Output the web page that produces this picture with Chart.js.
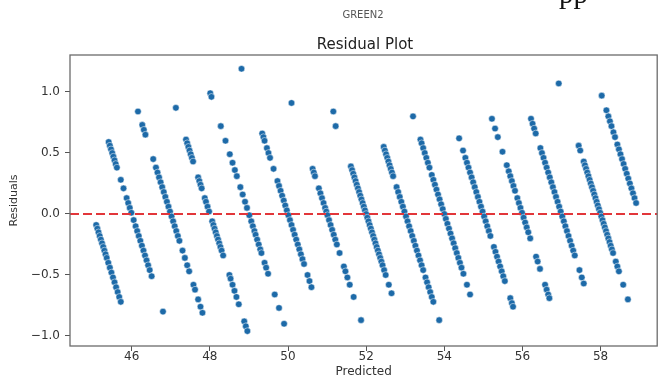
<!DOCTYPE html>
<html>
<head>
<meta charset="utf-8">
<script src="https://cdn.jsdelivr.net/npm/chart.js@4.4.0/dist/chart.umd.min.js"></script>
<style>
html,body{margin:0;padding:0;background:#ffffff;}
#wrap{position:relative;width:661px;height:378px;overflow:hidden;background:#ffffff;}
#c{position:absolute;left:0;top:0;}
.t{position:absolute;white-space:nowrap;font-family:'DejaVu Sans',sans-serif;}
#suptitle{left:363px;top:10px;font-size:10px;line-height:10px;color:#555;transform:translateX(-50%);}
#title{left:365px;top:37px;font-size:15px;line-height:15px;color:#222;transform:translateX(-50%);}
#pp{left:559px;top:-21px;font-family:'Liberation Serif',serif;font-size:29px;line-height:29px;color:#111;}
</style>
</head>
<body>
<div id="wrap">
<canvas id="c" width="661" height="378"></canvas>
<div class="t" id="suptitle">GREEN2</div>
<div class="t" id="title">Residual Plot</div>
<div class="t" id="pp">pp</div>
</div>
<script>
// Axis ticks
const xTicks = [46, 48, 50, 52, 54, 56, 58];
const yTicks = [-1.0, -0.5, 0.0, 0.5, 1.0];
const yTickLabels = ['\u22121.0', '\u22120.5', '0.0', '0.5', '1.0'];
const zeroLevel = 0;

// Predicted values and residuals, one stripe per observed integer value
const predicted45 = [45.09,45.12,45.15,45.18,45.21,45.24,45.27,45.30,45.33,45.36,45.40,45.44,45.48,45.52,45.56,45.60,45.64,45.68,45.72];
const residual45  = [-0.09,-0.12,-0.15,-0.18,-0.21,-0.24,-0.27,-0.30,-0.33,-0.36,-0.40,-0.44,-0.48,-0.52,-0.56,-0.60,-0.64,-0.68,-0.72];

const predicted46 = [45.41,45.44,45.47,45.50,45.53,45.56,45.59,45.62,45.72,45.79,45.87,45.91,45.95,45.99,46.05,46.10,46.14,46.18,46.22,46.26,46.30,46.34,46.38,46.42,46.46,46.51,46.80];
const residual46  = [0.59,0.56,0.53,0.50,0.47,0.44,0.41,0.38,0.28,0.21,0.13,0.09,0.05,0.01,-0.05,-0.10,-0.14,-0.18,-0.22,-0.26,-0.30,-0.34,-0.38,-0.42,-0.46,-0.51,-0.80];

const predicted47 = [46.16,46.27,46.31,46.35,46.55,46.62,46.66,46.70,46.74,46.78,46.82,46.86,46.90,46.94,46.98,47.02,47.06,47.10,47.14,47.18,47.22,47.30,47.36,47.42,47.47,47.58,47.62,47.70,47.76,47.81];
const residual47  = [0.84,0.73,0.69,0.65,0.45,0.38,0.34,0.30,0.26,0.22,0.18,0.14,0.10,0.06,0.02,-0.02,-0.06,-0.10,-0.14,-0.18,-0.22,-0.30,-0.36,-0.42,-0.47,-0.58,-0.62,-0.70,-0.76,-0.81];

const predicted48 = [47.13,47.39,47.42,47.45,47.48,47.51,47.54,47.57,47.70,47.73,47.76,47.79,47.87,47.90,47.94,47.98,48.06,48.09,48.12,48.15,48.18,48.21,48.24,48.27,48.30,48.34,48.50,48.53,48.58,48.63,48.68,48.74,48.88,48.92,48.96];
const residual48  = [0.87,0.61,0.58,0.55,0.52,0.49,0.46,0.43,0.30,0.27,0.24,0.21,0.13,0.10,0.06,0.02,-0.06,-0.09,-0.12,-0.15,-0.18,-0.21,-0.24,-0.27,-0.30,-0.34,-0.50,-0.53,-0.58,-0.63,-0.68,-0.74,-0.88,-0.92,-0.96];

const predicted49 = [48.01,48.04,48.28,48.40,48.51,48.58,48.64,48.69,48.78,48.84,48.90,48.95,49.01,49.06,49.10,49.14,49.17,49.21,49.25,49.29,49.32,49.40,49.44,49.49,49.66,49.77,49.90];
const residual49  = [0.99,0.96,0.72,0.60,0.49,0.42,0.36,0.31,0.22,0.16,0.10,0.05,-0.01,-0.06,-0.10,-0.14,-0.17,-0.21,-0.25,-0.29,-0.32,-0.40,-0.44,-0.49,-0.66,-0.77,-0.90];

const predicted50 = [48.81,49.34,49.37,49.40,49.46,49.50,49.54,49.63,49.73,49.77,49.81,49.85,49.89,49.93,49.97,50.01,50.05,50.09,50.13,50.17,50.21,50.25,50.29,50.33,50.37,50.41,50.50,50.55,50.60];
const residual50  = [1.19,0.66,0.63,0.60,0.54,0.50,0.46,0.37,0.27,0.23,0.19,0.15,0.11,0.07,0.03,-0.01,-0.05,-0.09,-0.13,-0.17,-0.21,-0.25,-0.29,-0.33,-0.37,-0.41,-0.50,-0.55,-0.60];

const predicted51 = [50.09,50.63,50.66,50.69,50.79,50.83,50.87,50.91,50.95,50.98,51.01,51.05,51.09,51.13,51.17,51.21,51.25,51.32,51.43,51.47,51.52,51.58,51.68,51.87];
const residual51  = [0.91,0.37,0.34,0.31,0.21,0.17,0.13,0.09,0.05,0.02,-0.01,-0.05,-0.09,-0.13,-0.17,-0.21,-0.25,-0.32,-0.43,-0.47,-0.52,-0.58,-0.68,-0.87];

const predicted52 = [51.16,51.22,51.61,51.64,51.67,51.70,51.73,51.76,51.79,51.82,51.85,51.88,51.91,51.94,51.97,52.00,52.03,52.06,52.09,52.12,52.15,52.18,52.21,52.24,52.27,52.30,52.33,52.36,52.39,52.42,52.46,52.50,52.58,52.65];
const residual52  = [0.84,0.72,0.39,0.36,0.33,0.30,0.27,0.24,0.21,0.18,0.15,0.12,0.09,0.06,0.03,0.00,-0.03,-0.06,-0.09,-0.12,-0.15,-0.18,-0.21,-0.24,-0.27,-0.30,-0.33,-0.36,-0.39,-0.42,-0.46,-0.50,-0.58,-0.65];

const predicted53 = [52.45,52.48,52.51,52.54,52.57,52.60,52.63,52.66,52.69,52.78,52.82,52.86,52.90,52.94,52.98,53.02,53.06,53.10,53.14,53.18,53.22,53.26,53.30,53.34,53.38,53.42,53.46,53.52,53.56,53.60,53.64,53.68,53.72,53.87];
const residual53  = [0.55,0.52,0.49,0.46,0.43,0.40,0.37,0.34,0.31,0.22,0.18,0.14,0.10,0.06,0.02,-0.02,-0.06,-0.10,-0.14,-0.18,-0.22,-0.26,-0.30,-0.34,-0.38,-0.42,-0.46,-0.52,-0.56,-0.60,-0.64,-0.68,-0.72,-0.87];

const predicted54 = [53.20,53.39,53.42,53.46,53.50,53.54,53.58,53.62,53.68,53.72,53.76,53.80,53.84,53.88,53.92,53.96,54.00,54.04,54.08,54.12,54.16,54.20,54.24,54.28,54.32,54.36,54.40,54.44,54.49,54.58,54.66];
const residual54  = [0.80,0.61,0.58,0.54,0.50,0.46,0.42,0.38,0.32,0.28,0.24,0.20,0.16,0.12,0.08,0.04,0.00,-0.04,-0.08,-0.12,-0.16,-0.20,-0.24,-0.28,-0.32,-0.36,-0.40,-0.44,-0.49,-0.58,-0.66];

const predicted55 = [54.38,54.48,54.54,54.58,54.62,54.66,54.70,54.74,54.78,54.82,54.86,54.90,54.94,54.98,55.02,55.06,55.10,55.14,55.18,55.27,55.31,55.35,55.39,55.43,55.47,55.51,55.55,55.69,55.73,55.76];
const residual55  = [0.62,0.52,0.46,0.42,0.38,0.34,0.30,0.26,0.22,0.18,0.14,0.10,0.06,0.02,-0.02,-0.06,-0.10,-0.14,-0.18,-0.27,-0.31,-0.35,-0.39,-0.43,-0.47,-0.51,-0.55,-0.69,-0.73,-0.76];

const predicted56 = [55.22,55.30,55.37,55.49,55.60,55.65,55.69,55.73,55.77,55.81,55.87,55.91,55.95,55.99,56.03,56.07,56.11,56.15,56.20,56.35,56.39,56.45,56.58,56.62,56.66,56.69];
const residual56  = [0.78,0.70,0.63,0.51,0.40,0.35,0.31,0.27,0.23,0.19,0.13,0.09,0.05,0.01,-0.03,-0.07,-0.11,-0.15,-0.20,-0.35,-0.39,-0.45,-0.58,-0.62,-0.66,-0.69];

const predicted57 = [56.22,56.26,56.30,56.34,56.46,56.50,56.54,56.58,56.62,56.66,56.70,56.74,56.78,56.82,56.86,56.90,56.94,56.98,57.02,57.06,57.10,57.14,57.18,57.22,57.26,57.30,57.34,57.46,57.52,57.57];
const residual57  = [0.78,0.74,0.70,0.66,0.54,0.50,0.46,0.42,0.38,0.34,0.30,0.26,0.22,0.18,0.14,0.10,0.06,0.02,-0.02,-0.06,-0.10,-0.14,-0.18,-0.22,-0.26,-0.30,-0.34,-0.46,-0.52,-0.57];

const predicted58 = [56.93,57.44,57.48,57.57,57.60,57.63,57.66,57.69,57.72,57.75,57.78,57.81,57.84,57.87,57.90,57.93,57.96,57.99,58.02,58.05,58.08,58.11,58.14,58.17,58.20,58.23,58.26,58.29,58.32,58.39,58.43,58.47,58.58,58.70];
const residual58  = [1.07,0.56,0.52,0.43,0.40,0.37,0.34,0.31,0.28,0.25,0.22,0.19,0.16,0.13,0.10,0.07,0.04,0.01,-0.02,-0.05,-0.08,-0.11,-0.14,-0.17,-0.20,-0.23,-0.26,-0.29,-0.32,-0.39,-0.43,-0.47,-0.58,-0.70];

const predicted59 = [58.03,58.15,58.20,58.24,58.28,58.33,58.37,58.43,58.47,58.51,58.55,58.59,58.63,58.67,58.71,58.75,58.79,58.83,58.87,58.91];
const residual59  = [0.97,0.85,0.80,0.76,0.72,0.67,0.63,0.57,0.53,0.49,0.45,0.41,0.37,0.33,0.29,0.25,0.21,0.17,0.13,0.09];

const stripes = [
  [predicted45, residual45], [predicted46, residual46], [predicted47, residual47],
  [predicted48, residual48], [predicted49, residual49], [predicted50, residual50],
  [predicted51, residual51], [predicted52, residual52], [predicted53, residual53],
  [predicted54, residual54], [predicted55, residual55], [predicted56, residual56],
  [predicted57, residual57], [predicted58, residual58], [predicted59, residual59]
];

const points = [];
stripes.forEach(([p, r]) => {
  const n = Math.min(p.length, r.length);
  for (let i = 0; i < n; i++) points.push({x: p[i], y: r[i]});
});

const FONT = "'DejaVu Sans', sans-serif";

const framePlugin = {
  id: 'frame',
  afterDatasetsDraw(chart) {
    const {ctx, chartArea: a, scales: {y}} = chart;
    const py = y.getPixelForValue(zeroLevel);
    ctx.save();
    ctx.beginPath();
    ctx.rect(a.left, a.top, a.right - a.left, a.bottom - a.top);
    ctx.clip();
    ctx.strokeStyle = '#e2363a';
    ctx.lineWidth = 1.8;
    ctx.setLineDash([9, 4]);
    ctx.beginPath();
    ctx.moveTo(a.left, py);
    ctx.lineTo(a.right, py);
    ctx.stroke();
    ctx.restore();
  },
  afterDraw(chart) {
    const {ctx, chartArea: a} = chart;
    ctx.save();
    ctx.strokeStyle = '#6b6b6b';
    ctx.lineWidth = 1.3;
    ctx.strokeRect(a.left, a.top, a.right - a.left, a.bottom - a.top);
    ctx.restore();
  }
};

new Chart(document.getElementById('c'), {
  type: 'scatter',
  data: {
    datasets: [{
      data: points,
      backgroundColor: '#1d6aa8',
      borderColor: '#ffffff',
      borderWidth: 0.5,
      pointRadius: 3.3,
      pointHoverRadius: 3.3
    }]
  },
  options: {
    responsive: false,
    animation: false,
    devicePixelRatio: 1,
    layout: {padding: {top: 55, right: 1, left: 0, bottom: 0}},
    plugins: {legend: {display: false}, tooltip: {enabled: false}, title: {display: false}},
    scales: {
      x: {
        type: 'linear',
        min: 44.42,
        max: 59.45,
        afterFit: s => { s.height = 32; },
        afterBuildTicks: s => { s.ticks = xTicks.map(v => ({value: v})); },
        ticks: {
          font: {family: FONT, size: 12, lineHeight: 1},
          color: '#333',
          padding: 0,
          maxRotation: 0,
          autoSkip: false,
          callback: v => String(v)
        },
        grid: {drawOnChartArea: false, drawTicks: true, tickLength: 5, color: '#555', tickWidth: 1},
        border: {display: false},
        title: {display: true, text: 'Predicted', font: {family: FONT, size: 12, lineHeight: 1}, color: '#333', padding: {top: 0, bottom: 0}}
      },
      y: {
        type: 'linear',
        min: -1.082,
        max: 1.303,
        afterFit: s => { s.width = 70; },
        afterBuildTicks: s => { s.ticks = yTicks.map(v => ({value: v})); },
        ticks: {
          font: {family: FONT, size: 12},
          color: '#333',
          padding: 5,
          autoSkip: false,
          callback: v => yTickLabels[yTicks.indexOf(v)]
        },
        grid: {drawOnChartArea: false, drawTicks: true, tickLength: 5, color: '#555', tickWidth: 1},
        border: {display: false},
        title: {display: true, text: 'Residuals', font: {family: FONT, size: 11, lineHeight: 1}, color: '#333', padding: {top: 9, bottom: 0}}
      }
    }
  },
  plugins: [framePlugin]
});
</script>
</body>
</html>
